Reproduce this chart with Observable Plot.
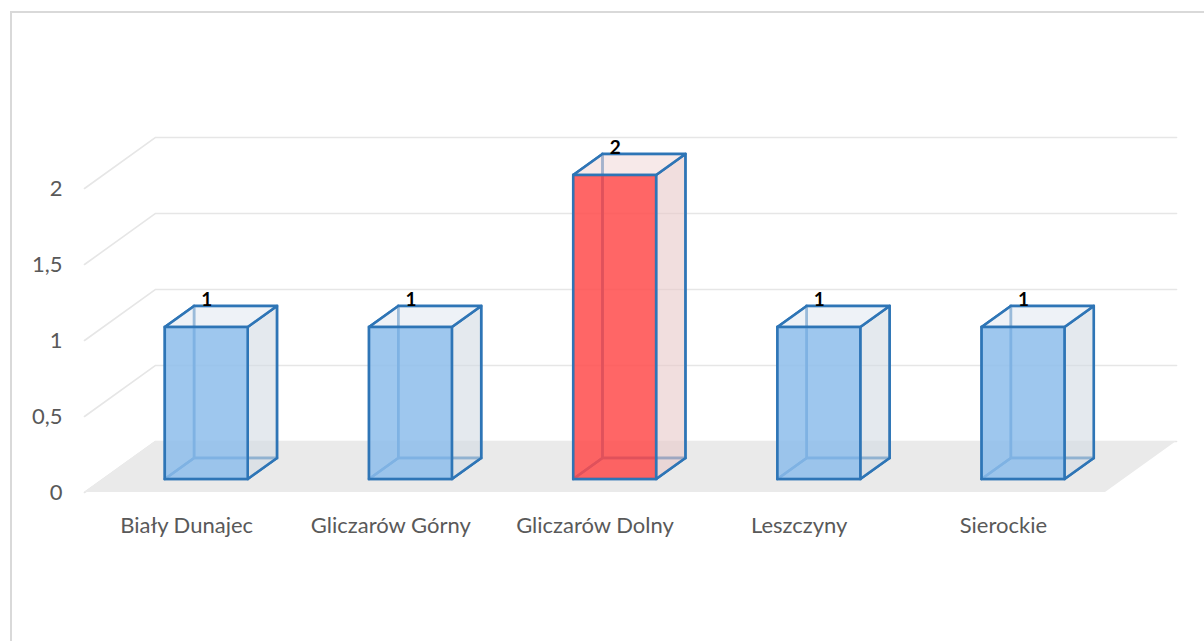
<!DOCTYPE html>
<html>
<head>
<meta charset="utf-8">
<script src="https://cdn.jsdelivr.net/npm/d3@7"></script>
<script src="https://cdn.jsdelivr.net/npm/@observablehq/plot@0.6"></script>
<style>
  html, body { margin: 0; padding: 0; background: #fff; overflow: hidden; }
  #wrap { position: relative; width: 1204px; height: 641px; }
  #frame { position: absolute; left: 10px; top: 11px; width: 1204px; height: 641px;
           border-left: 2px solid #d9d9d9; border-top: 2px solid #d9d9d9; }
  #chart { position: absolute; left: 0; top: 0; }
</style>
</head>
<body>
<div id="wrap"><div id="frame"></div><div id="chart"></div></div>
<script>
// ---- data ----
const categories = ["Biały Dunajec", "Gliczarów Górny", "Gliczarów Dolny", "Leszczyny", "Sierockie"];
const values = [1, 1, 2, 1, 1];
const highlighted = ["Gliczarów Dolny"];
const yTicks = [0, 0.5, 1, 1.5, 2];
const yTickLabels = ["0", "0,5", "1", "1,5", "2"];

// ---- 3D geometry (in data units) ----
const DX = 0.348;  // depth shift along x (category units) for full depth
const DY = 0.336;  // depth shift along y (value units) for full depth
const D0 = 0.255, D1 = 0.667; // front & back depth of bars
const HW = 0.203;  // half bar width (category units)
const XOFF = 0.51; // bar centre within category
const n = categories.length;

const bars = categories.map((c, i) => ({
  key: c, i, v: values[i], hi: highlighted.includes(c),
  left: i + XOFF - HW, right: i + XOFF + HW
}));

const face = (b, d) => ({key: b.key, hi: b.hi, x1: b.left + d * DX, x2: b.right + d * DX, y1: d * DY, y2: b.v + d * DY});
const frontFaces = bars.map(b => face(b, D0));
const backFaces = bars.map(b => face(b, D1));
const side = (b, xx) => [D0, D1].map(d => ({key: b.key, hi: b.hi, x: xx + d * DX, y1: d * DY, y2: b.v + d * DY}));
const rightFaces = bars.flatMap(b => side(b, b.right));
const leftFaces = bars.flatMap(b => side(b, b.left));
const hor = (b, yy) => [D0, D1].map(d => ({key: b.key, hi: b.hi, y: yy + d * DY, x1: b.left + d * DX, x2: b.right + d * DX}));
const topFaces = bars.flatMap(b => hor(b, b.v));
const bottomFaces = bars.flatMap(b => hor(b, 0));

const grid = yTicks.flatMap(t => [
  {t, x: 0, y: t}, {t, x: DX, y: t + DY}, {t, x: n + DX, y: t + DY}
]);
const floor = [{y: 0, x1: 0, x2: n}, {y: DY, x1: DX, x2: n + DX}];

const STROKE = "#2E75B6";
const SW = 2.5;
const font = "Lato, 'Open Sans', sans-serif";

const chart = Plot.plot({
  width: 1204, height: 641,
  marginLeft: 84, marginRight: 99, marginTop: 112, marginBottom: 149,
  x: {domain: [0, n], axis: null},
  y: {domain: [0, 2.5], axis: null},
  style: {fontFamily: font, background: "transparent"},
  marks: [
    Plot.line(grid, {x: "x", y: "y", z: "t", stroke: "#e6e6e6", strokeWidth: 1.6}),
    Plot.areaX(floor, {y: "y", x1: "x1", x2: "x2", fill: "#eaeaea"}),
    // hidden (inner) faces: outlines only
    Plot.rect(backFaces, {x1: "x1", x2: "x2", y1: "y1", y2: "y2", fill: "none", stroke: STROKE, strokeWidth: SW}),
    Plot.areaY(leftFaces, {x: "x", y1: "y1", y2: "y2", z: "key", fill: "none", stroke: STROKE, strokeWidth: SW}),
    Plot.areaX(bottomFaces, {y: "y", x1: "x1", x2: "x2", z: "key", fill: "none", stroke: STROKE, strokeWidth: SW}),
    // visible faces
    Plot.areaY(rightFaces, {x: "x", y1: "y1", y2: "y2", z: "key",
      fill: d => d.hi ? "#E8C8C8" : "#D2DAE3", fillOpacity: 0.6, stroke: STROKE, strokeWidth: SW, strokeLinejoin: "round"}),
    Plot.areaX(topFaces, {y: "y", x1: "x1", x2: "x2", z: "key",
      fill: d => d.hi ? "#F2DADA" : "#E3EAF1", fillOpacity: 0.6, stroke: STROKE, strokeWidth: SW, strokeLinejoin: "round"}),
    Plot.rect(frontFaces, {x1: "x1", x2: "x2", y1: "y1", y2: "y2",
      fill: d => d.hi ? "#FF4B4B" : "#8DBDEB", fillOpacity: 0.85, stroke: STROKE, strokeWidth: SW}),
    // y tick labels
    Plot.text(yTicks, {x: 0, y: d => d, text: (d, i) => yTickLabels[i], dx: -22, textAnchor: "end",
      fill: "#595959", fontSize: 22}),
    // category labels
    Plot.text(bars, {x: d => d.i + 0.5, y: 0, text: "key", dy: 33, fill: "#595959", fontSize: 22}),
    // value labels
    Plot.text(bars, {x: d => d.i + XOFF + D0 * DX, y: d => d.v + D1 * DY, text: d => String(d.v),
      lineAnchor: "bottom", dy: 0, fill: "#000", fontSize: 19, fontWeight: "bold"})
  ]
});
document.getElementById("chart").appendChild(chart);
</script>
</body>
</html>
